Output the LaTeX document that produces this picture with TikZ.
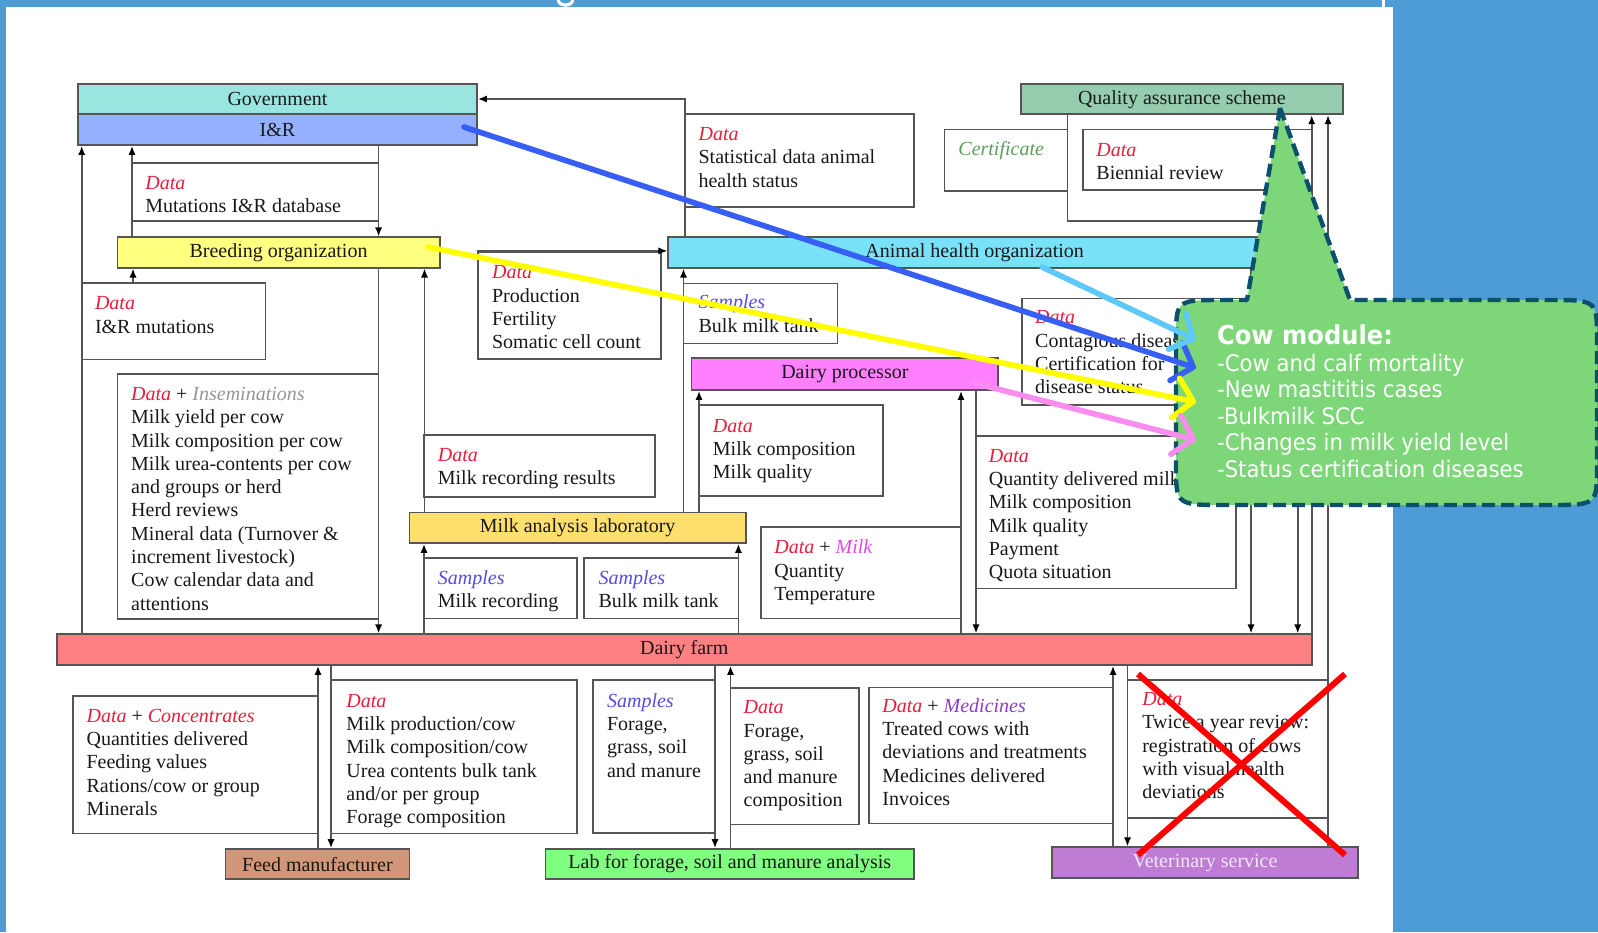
\documentclass[tikz,border=0pt]{standalone}
\usepackage{fontspec}
\setmainfont{Liberation Serif}
\newfontfamily\callfont[FakeStretch=0.93]{DejaVu Sans}
\usetikzlibrary{arrows.meta}
\definecolor{bgblue}{RGB}{78,156,213}
\definecolor{govc}{RGB}{153,229,224}
\definecolor{irc}{RGB}{148,176,255}
\definecolor{breedc}{RGB}{255,255,128}
\definecolor{ahoc}{RGB}{122,226,248}
\definecolor{qasc}{RGB}{150,205,175}
\definecolor{procc}{RGB}{255,128,255}
\definecolor{labc}{RGB}{255,224,110}
\definecolor{farmc}{RGB}{255,128,128}
\definecolor{feedc}{RGB}{210,150,120}
\definecolor{forlabc}{RGB}{128,255,128}
\definecolor{vetc}{RGB}{190,125,210}
\definecolor{vettxt}{RGB}{240,230,248}
\definecolor{boxline}{RGB}{85,85,85}
\definecolor{txt}{RGB}{25,25,25}
\definecolor{datared}{RGB}{232,30,60}
\definecolor{sampblue}{RGB}{85,75,230}
\definecolor{certgreen}{RGB}{90,160,90}
\definecolor{insgray}{RGB}{150,150,150}
\definecolor{milkmag}{RGB}{230,70,230}
\definecolor{medpurp}{RGB}{140,60,200}
\definecolor{callgreen}{RGB}{125,215,120}
\definecolor{calledge}{RGB}{12,80,110}
\definecolor{arrblue}{RGB}{55,95,245}
\definecolor{arrlight}{RGB}{95,200,250}
\definecolor{arryellow}{RGB}{255,255,0}
\definecolor{arrpink}{RGB}{250,140,240}
\newcommand\redit[1]{{\itshape\color{datared}#1}}
\newcommand\blueit[1]{{\itshape\color{sampblue}#1}}
\newcommand\greenit[1]{{\itshape\color{certgreen}#1}}
\newcommand\grayit[1]{{\itshape\color{insgray}#1}}
\newcommand\magit[1]{{\itshape\color{milkmag}#1}}
\newcommand\purpit[1]{{\itshape\color{medpurp}#1}}
\newcommand\orgbox[7]{\node[org, fill=#6, minimum width={(#4-(#2))*0.5pt}, minimum height={(#5-(#3))*0.5pt}] (#1) at ({((#2)+(#4))/2},{((#3)+(#5))/2}) {#7};}
\newcommand\databox[5]{\node[dbox, minimum width={(#4-(#2))*0.5pt}, minimum height={(#5-(#3))*0.5pt}] (#1) at ({((#2)+(#4))/2},{((#3)+(#5))/2}) {};}
\newcommand\datatext[4]{\node[dtxt] (#1) at (#2,{(#3)-18}) {\rule{0pt}{9pt}#4};}
\begin{document}
\begin{tikzpicture}[x=0.5pt,y=-0.5pt,
  org/.style={draw=boxline, line width=0.9pt, inner sep=0pt, font=\fontsize{10}{12}\selectfont, text=txt},
  dbox/.style={draw=boxline, line width=0.8pt, fill=white, inner sep=0pt},
  dtxt/.style={anchor=north west, inner sep=0pt, align=left, font=\fontsize{10}{11.65}\selectfont, text=txt},
  conn/.style={draw=boxline, line width=0.8pt},
  arr/.style={conn, -{Latex[length=4.5pt,width=3.6pt,color=black]}},
  bigarr/.style={line width=2.8pt, line cap=round, line join=round, -{Straight Barb[length=9pt,width=20pt,round]}},
  callout/.style={fill=callgreen, draw=calledge, line width=2.2pt, dash pattern=on 6.5pt off 3pt, line join=round},
  calltxt/.style={anchor=north west, inner sep=0pt, align=left, text=white, font=\callfont\fontsize{11.4}{13.3}\selectfont}]
\useasboundingbox (0,0) rectangle (1598,932);
\fill[bgblue] (0,0) rectangle (1598,932);
\fill[white] (6,7) rectangle (1393,932);
\fill[white] (1382,0) rectangle (1385,7);
\draw[white, line width=1.6pt] (558,0) .. controls (560,7) and (571,7) .. (573,0);

% organisations
\orgbox{gov}{78}{84}{477}{114}{govc}{Government}
\orgbox{ir}{78}{114}{477}{145}{irc}{I\&R}
\orgbox{breed}{117.4}{237.3}{439.7}{267.7}{breedc}{Breeding organization}
\orgbox{aho}{668.3}{237.3}{1281}{267.7}{ahoc}{Animal health organization}
\orgbox{qas}{1021}{84.3}{1342.7}{114.3}{qasc}{Quality assurance scheme}
\orgbox{proc}{691.5}{358.3}{998.2}{390}{procc}{Dairy processor}
\orgbox{lab}{409.4}{512.5}{746}{543}{labc}{Milk analysis laboratory}
\orgbox{farm}{56.7}{634.3}{1311.7}{665}{farmc}{Dairy farm}
\orgbox{feed}{225.4}{849}{409.4}{879.3}{feedc}{Feed manufacturer}
\orgbox{forlab}{545.5}{849}{914}{879}{forlabc}{Lab for forage, soil and manure analysis}
\orgbox{vet}{1052}{847.3}{1358}{878.3}{vetc}{\color{vettxt}Veterinary service}

% data boxes
\databox{bA}{132}{163}{378.6}{221}
\databox{bB}{81.7}{282.7}{265.6}{359.3}
\databox{bC}{477.7}{251.7}{661}{359}
\databox{bD}{684.8}{114}{914}{206.7}
\databox{bE}{944.6}{129.3}{1067.4}{190.7}
\databox{bF}{1082.7}{129.3}{1311.7}{190}
\databox{bH}{683.5}{283.3}{837.5}{343.3}
\databox{bI}{1022}{298.3}{1251}{405}
\databox{bJ}{117.4}{374}{378.6}{619}
\databox{bK}{424}{435}{655}{496.7}
\databox{bL}{424}{557.7}{577.2}{618.3}
\databox{bM}{584}{557.7}{738.4}{618.3}
\databox{bN}{699}{405}{883}{496}
\databox{bO}{760.7}{526.7}{961}{618.3}
\databox{bP}{975.9}{435.7}{1236}{588.3}
\databox{bQ}{72.8}{695.7}{318}{833.3}
\databox{bR}{331}{680}{577.2}{833.3}
\databox{bS}{592.7}{680}{715}{832.7}
\databox{bT}{730.5}{688}{859}{824.3}
\databox{bU}{868.7}{687.3}{1113}{823.3}
\databox{bV}{1127.5}{680}{1328}{817.7}

\datatext{tA}{145}{189}{\redit{Data}\\Mutations I\&R database}
\datatext{tB}{94.6}{309.3}{\redit{Data}\\I\&R mutations}
\datatext{tC}{491.7}{278.3}{\redit{Data}\\Production\\Fertility\\Somatic cell count}
\datatext{tD}{698.2}{140}{\redit{Data}\\Statistical data animal\\health status}
\datatext{tE}{958}{155}{\greenit{Certificate}}
\datatext{tF}{1096}{156}{\redit{Data}\\Biennial review}
\datatext{tH}{698.2}{308.3}{\blueit{Samples}\\Bulk milk tank}
\datatext{tI}{1034.8}{323.3}{\redit{Data}\\Contagious diseases\\Certification for\\disease status}
\datatext{tJ}{130.8}{400}{\redit{Data} + \grayit{Inseminations}\\Milk yield per cow\\Milk composition per cow\\Milk urea-contents per cow\\and groups or herd\\Herd reviews\\Mineral data (Turnover \&\\increment livestock)\\Cow calendar data and\\attentions}
\datatext{tK}{437.5}{461}{\redit{Data}\\Milk recording results}
\datatext{tL}{437.5}{584}{\blueit{Samples}\\Milk recording}
\datatext{tM}{598.2}{584}{\blueit{Samples}\\Bulk milk tank}
\datatext{tN}{712.5}{431.7}{\redit{Data}\\Milk composition\\Milk quality}
\datatext{tO}{774}{553.3}{\redit{Data} + \magit{Milk}\\Quantity\\Temperature}
\datatext{tP}{988.4}{461.7}{\redit{Data}\\Quantity delivered milk\\Milk composition\\Milk quality\\Payment\\Quota situation}
\datatext{tQ}{86.2}{721.7}{\redit{Data} + \redit{Concentrates}\\Quantities delivered\\Feeding values\\Rations/cow or group\\Minerals}
\datatext{tR}{346}{706.7}{\redit{Data}\\Milk production/cow\\Milk composition/cow\\Urea contents bulk tank\\and/or per group\\Forage composition}
\datatext{tS}{606.7}{706.7}{\blueit{Samples}\\Forage,\\grass, soil\\and manure}
\datatext{tT}{743.3}{713.3}{\redit{Data}\\Forage,\\grass, soil\\and manure\\composition}
\datatext{tU}{882}{711.7}{\redit{Data} + \purpit{Medicines}\\Treated cows with\\deviations and treatments\\Medicines delivered\\Invoices}
\datatext{tV}{1141.9}{705}{\redit{Data}\\Twice a year review:\\registration of cows\\with visual health\\deviations}

% connectors
\draw[arr] (81.7,0 |- farm.north) -- (81.7,0 |- ir.south);
\draw[arr] (132,0 |- breed.north) -- (132,0 |- ir.south);
\draw[arr] (378.6,0 |- ir.south) -- (378.6,0 |- breed.north);
\draw[arr] (133,0 |- bB.north) -- (133,0 |- breed.south);
\draw[arr] (378.6,0 |- breed.south) -- (378.6,0 |- farm.north);
\draw[arr] (424,0 |- farm.north) -- (424,0 |- lab.south);
\draw[arr] (424.5,0 |- lab.north) -- (424.5,0 |- breed.south);
\draw[arr] (bC.north west) -- (aho.west |- bC.north);
\draw[arr] (684.8,0 |- aho.north) -- (684.8,99) -- (gov.east |- 0,99);
\draw[arr] (683.5,0 |- lab.north) -- (683.5,0 |- aho.south);
\draw[arr] (699,0 |- lab.north) -- (699,0 |- proc.south);
\draw[arr] (738.4,0 |- farm.north) -- (738.4,0 |- lab.south);
\draw[arr] (961,0 |- farm.north) -- (961,0 |- proc.south);
\draw[arr] (976,0 |- proc.south) -- (976,0 |- farm.north);
\draw[arr] (1251,0 |- aho.south) -- (1251,0 |- farm.north);
\draw[conn] (1067.4,0 |- qas.south) -- (1067.4,221) -- (1297.7,221);
\draw[arr] (1297.7,221) -- (1297.7,0 |- farm.north);
\draw[arr] (1311.7,0 |- farm.north) -- (1311.7,0 |- qas.south);
\draw[arr] (1328,0 |- vet.north) -- (1328,0 |- qas.south);
\draw[arr] (318,0 |- feed.north) -- (318,0 |- farm.south);
\draw[arr] (331,0 |- farm.south) -- (331,0 |- feed.north);
\draw[arr] (715,0 |- farm.south) -- (715,0 |- forlab.north);
\draw[arr] (730.5,0 |- forlab.north) -- (730.5,0 |- farm.south);
\draw[arr] (1113,0 |- vet.north) -- (1113,0 |- farm.south);
\draw[arr] (1127.5,0 |- farm.south) -- (1127.5,0 |- vet.north);

% callout
\draw[callout] (1280,108) -- (1350,300) -- (1550,300) .. controls (1597,300) .. (1597,340) -- (1597,465) .. controls (1597,505) .. (1550,505) -- (1225,505) .. controls (1176,505) .. (1176,465) -- (1176,340) .. controls (1176,300) .. (1222,300) -- (1247,300) -- cycle;
\node[calltxt] (cowmod) at (1216.7,322) {\rule{0pt}{11pt}{\bfseries\fontsize{13}{13.3}\selectfont Cow module:}\\-Cow and calf mortality\\-New mastititis cases\\-Bulkmilk SCC\\-Changes in milk yield level\\-Status certification diseases};

% coloured arrows
\coordinate (bS) at (464,127);
\coordinate (bE) at (1196,368);
\coordinate (lS) at (1042,267);
\coordinate (lE) at (1196,340);
\coordinate (yS) at (428,247);
\coordinate (yE) at (1196,402);
\coordinate (pS) at (974,383);
\coordinate (pE) at (1196,440);
\draw[bigarr, arrblue] (bS) -- (bE);
\draw[bigarr, arrlight] (lS) -- (lE);
\draw[bigarr, arryellow] (yS) -- (yE);
\draw[bigarr, arrpink] (pS) -- (pE);

% red cross
\draw[red, line width=3pt] (1138,674) -- (1345,855);
\draw[red, line width=3pt] (1345,674) -- (1138,855);
\end{tikzpicture}
\end{document}
